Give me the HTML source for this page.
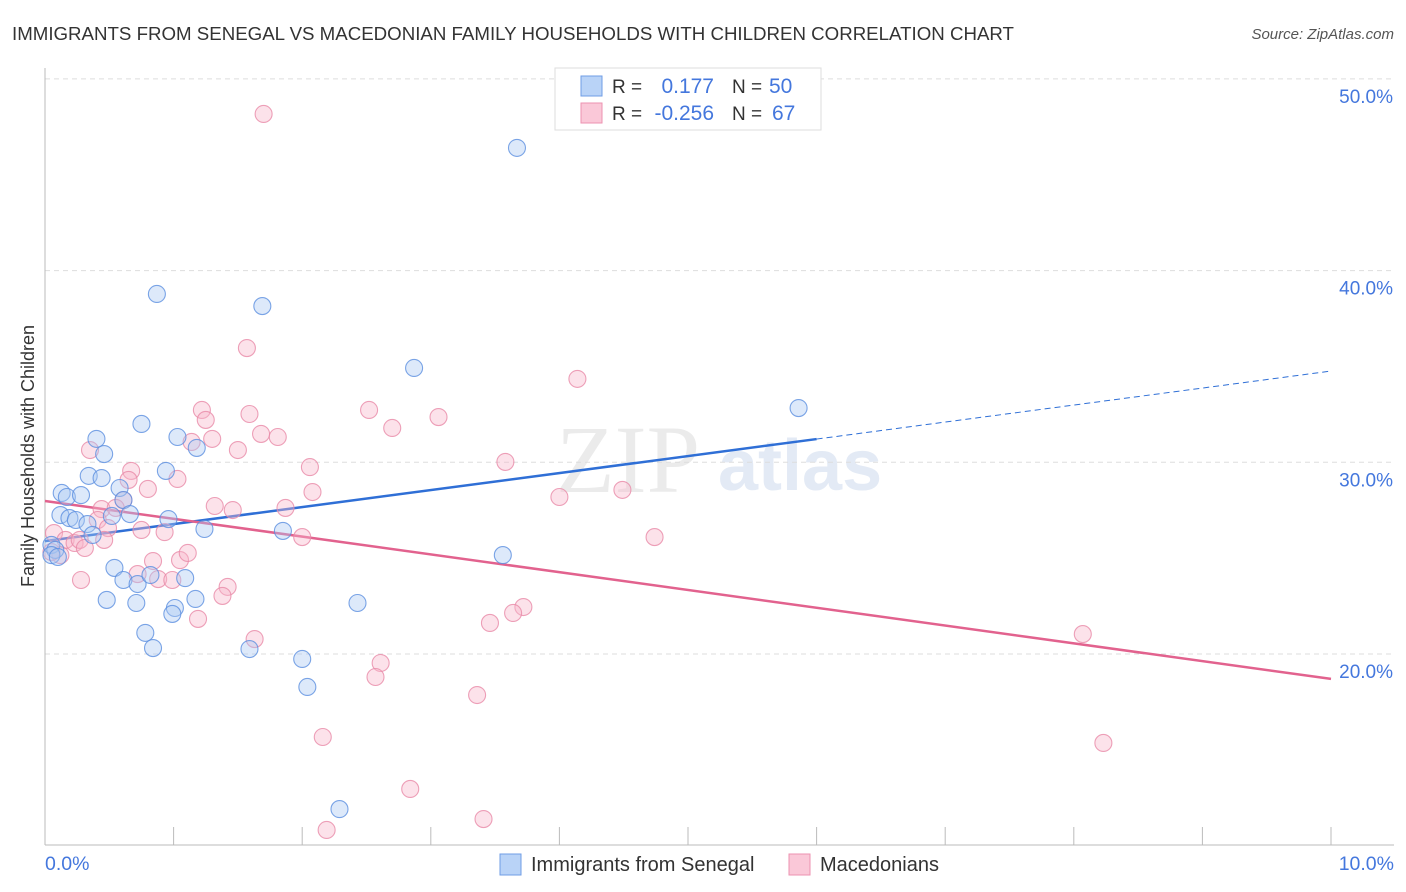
<!DOCTYPE html>
<html><head><meta charset="utf-8"><style>
body{margin:0;background:#fff;font-family:"Liberation Sans",sans-serif;}
svg{display:block}
</style></head><body>
<svg id="chart" width="1406" height="892" viewBox="0 0 1406 892">
<text x="12" y="40" font-size="18.7" fill="#333">IMMIGRANTS FROM SENEGAL VS MACEDONIAN FAMILY HOUSEHOLDS WITH CHILDREN CORRELATION CHART</text>
<text x="1394" y="39" font-size="15" fill="#555" font-style="italic" text-anchor="end">Source: ZipAtlas.com</text>
<text x="556" y="492" font-size="96" fill="#ebebeb" font-family="Liberation Serif,serif">ZIP</text>
<text x="718" y="490" font-size="72" fill="#e3eaf5" font-weight="bold">atlas</text>
<g id="grid"></g><g id="axes"></g><g id="lines"></g><g id="pts"></g>
<text transform="translate(34,456) rotate(-90)" font-size="18" fill="#333" text-anchor="middle">Family Households with Children</text>
<text x="45" y="870" font-size="19.5" fill="#4477dd">0.0%</text>
<text x="1394" y="870" font-size="19.5" fill="#4477dd" text-anchor="end">10.0%</text>
<g>
<rect x="500" y="854" width="21" height="21" fill="#b9d3f7" stroke="#6f9de6"/>
<text x="531" y="871" font-size="20" fill="#333">Immigrants from Senegal</text>
<rect x="789" y="854" width="21" height="21" fill="#fac8d8" stroke="#ec92b0"/>
<text x="820" y="871" font-size="20" fill="#333">Macedonians</text>
</g>
<g>
<rect x="555" y="68" width="266" height="62" fill="#fff" stroke="#ddd"/>
<rect x="581" y="76" width="21" height="20" fill="#b9d3f7" stroke="#6f9de6"/>
<rect x="581" y="103" width="21" height="20" fill="#fac8d8" stroke="#ec92b0"/>
<text x="612" y="93" font-size="19" fill="#333">R =</text>
<text x="714" y="93" font-size="21" fill="#4477dd" text-anchor="end">0.177</text>
<text x="732" y="93" font-size="19" fill="#333">N =</text>
<text x="769" y="93" font-size="21" fill="#4477dd">50</text>
<text x="612" y="120" font-size="19" fill="#333">R =</text>
<text x="714" y="120" font-size="21" fill="#4477dd" text-anchor="end">-0.256</text>
<text x="732" y="120" font-size="19" fill="#333">N =</text>
<text x="772" y="120" font-size="21" fill="#4477dd">67</text>
</g>
</svg>
<script>
const yTicks=[20,30,40,50];
const yTickLabels=["20.0%","30.0%","40.0%","50.0%"];
const xTicks=[0,1,2,3,4,5,6,7,8,9,10];
const bluePx=[[517,148],[157,294],[262,306],[414,368],[799,408],[142,424],[97,439],[178,437],[104,454],[197,448],[166,471],[89,476],[101,478],[62,493],[67,497],[81,495],[119,488],[124,500],[130,514],[112,516],[60,515],[70,518],[76,520],[87,524],[169,519],[93,535],[205,529],[283,531],[503,555],[51,545],[55,550],[52,555],[58,557],[115,568],[124,580],[138,584],[150,575],[185,578],[107,600],[136,603],[196,599],[175,608],[172,614],[357,603],[145,633],[153,648],[249,649],[302,659],[307,687],[339,809]];
const pinkPx=[[263,114],[247,348],[577,379],[202,410],[369,410],[250,414],[438,417],[206,420],[392,428],[261,434],[212,439],[278,437],[191,442],[238,450],[90,450],[505,462],[310,467],[131,471],[177,479],[148,489],[312,492],[128,480],[622,490],[559,497],[123,500],[215,506],[233,510],[285,508],[102,509],[116,508],[98,520],[108,528],[142,530],[164,532],[302,537],[655,537],[54,533],[66,540],[74,543],[80,540],[104,540],[85,548],[60,555],[153,561],[180,560],[188,553],[138,574],[158,579],[172,580],[227,587],[81,580],[222,596],[198,619],[523,607],[513,613],[490,623],[254,639],[1083,634],[381,663],[376,677],[477,695],[323,737],[1103,743],[410,789],[483,819],[327,830],[52,552]];
const blueX=bluePx.map(p=>+((p[0]-45)/128.6).toFixed(2));
const blueY=bluePx.map(p=>+(20+(654-p[1])/19.17).toFixed(2));
const pinkX=pinkPx.map(p=>+((p[0]-45)/128.6).toFixed(2));
const pinkY=pinkPx.map(p=>+(20+(654-p[1])/19.17).toFixed(2));
const blueTrend=[25.89,34.76]; const blueSolidEnd=6.0;
const pinkTrend=[27.98,18.70];
const NS="http://www.w3.org/2000/svg";
const sx=v=>45+v*128.6, sy=v=>654-(v-20)*19.17;
function mk(tag,attrs,parent){const e=document.createElementNS(NS,tag);for(const k in attrs)e.setAttribute(k,attrs[k]);document.getElementById(parent).appendChild(e);return e;}
yTicks.forEach((t,i)=>{
 const l=mk('line',{x1:45,x2:1394,y1:sy(t),y2:sy(t),stroke:'#ddd','stroke-dasharray':'5,4'},'grid');
 
 
 const tx=mk('text',{x:1393,y:sy(t)+24,'font-size':19,fill:'#4477dd','text-anchor':'end'},'grid');tx.textContent=yTickLabels[i];
 
 
});
const ax=mk('line',{x1:45,x2:45,y1:68,y2:845,stroke:'#bbb'},'axes');


const bx=mk('line',{x1:45,x2:1394,y1:845,y2:845,stroke:'#bbb'},'axes');


xTicks.forEach(t=>{const l=mk('line',{x1:sx(t),x2:sx(t),y1:827,y2:845,stroke:'#bbb'},'axes');
 
 });
function pts(X,Y,fill,stroke,name){X.forEach((x,i)=>{const c=mk('circle',{cx:sx(x),cy:sy(Y[i]),r:8.5,fill:fill,'fill-opacity':0.4,stroke:stroke,'stroke-opacity':0.8,'stroke-width':1.1},'pts');
 
 });}
pts(pinkX,pinkY,'#f7b6ca','#e889a8','macedonians-point');
pts(blueX,blueY,'#a9c8f2','#5b8ee0','senegal-point');
const bs=blueTrend[0]+(blueTrend[1]-blueTrend[0])*blueSolidEnd/10;
const l1=mk('line',{x1:sx(0),y1:sy(blueTrend[0]),x2:sx(blueSolidEnd),y2:sy(bs),stroke:'#2f6fd6','stroke-width':2.5},'lines');


const l2=mk('line',{x1:sx(blueSolidEnd),y1:sy(bs),x2:sx(10),y2:sy(blueTrend[1]),stroke:'#2f6fd6','stroke-width':1,'stroke-dasharray':'6,4'},'lines');


const l3=mk('line',{x1:sx(0),y1:sy(pinkTrend[0]),x2:sx(10),y2:sy(pinkTrend[1]),stroke:'#e2628e','stroke-width':2.5},'lines');


</script>
</body></html>
